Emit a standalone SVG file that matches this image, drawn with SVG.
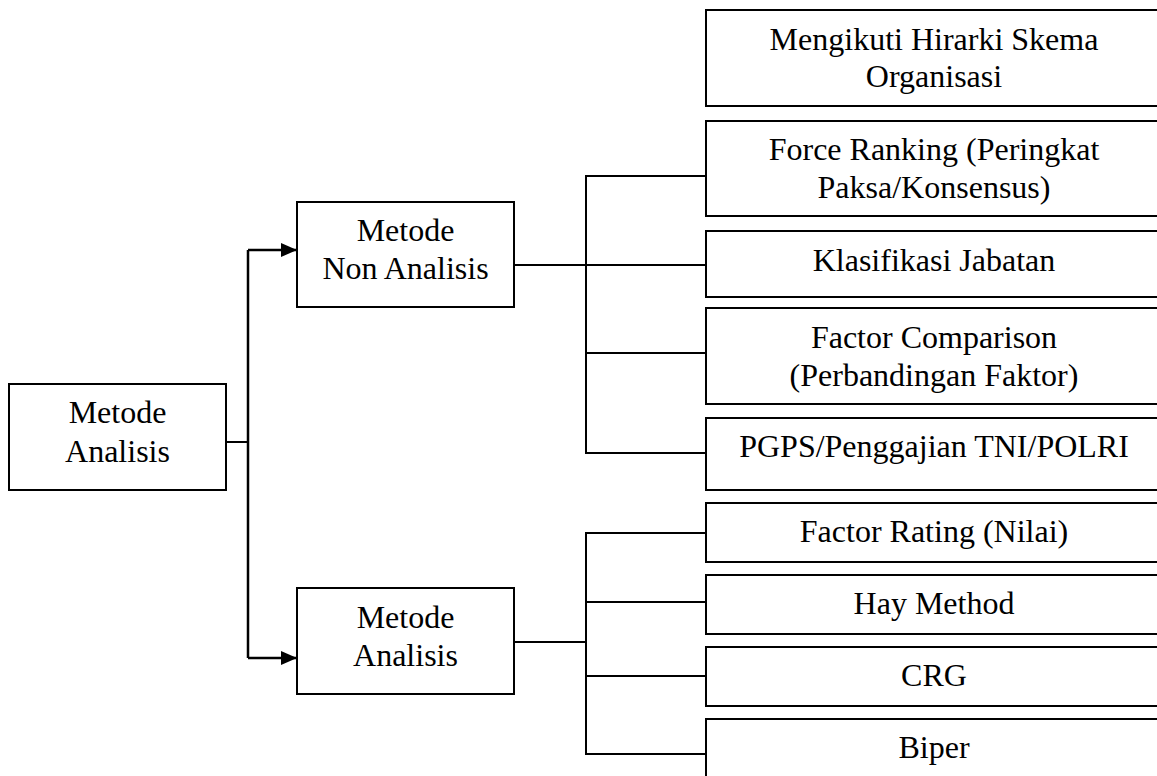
<svg xmlns="http://www.w3.org/2000/svg" width="1157" height="776" viewBox="0 0 1157 776">
<style>
.box{fill:#fff;stroke:#000;stroke-width:2}
.t{font-family:"Liberation Serif","Times New Roman",serif;font-size:32px;fill:#000;text-anchor:middle}
.c{fill:none;stroke:#000;stroke-width:2}
</style>
<defs>
<marker id="ah" viewBox="0 0 16 14" refX="16" refY="7" markerWidth="16" markerHeight="14" markerUnits="userSpaceOnUse" orient="auto">
<path d="M0,0 L16,7 L0,14 Z" fill="#000"/>
</marker>
</defs>
<rect width="1157" height="776" fill="#fff"/>
<g id="connectors">
<path class="c" d="M226,442 H248"/>
<path class="c" d="M248,250 V658" style="stroke-width:2.5"/>
<path class="c" d="M248,250 H297" marker-end="url(#ah)" style="stroke-width:2.5"/>
<path class="c" d="M248,658 H297" marker-end="url(#ah)" style="stroke-width:2.5"/>
<path class="c" d="M514,265 H706"/>
<path class="c" d="M706,176 H586 V453 H706"/>
<path class="c" d="M586,353 H706"/>
<path class="c" d="M514,642 H586"/>
<path class="c" d="M706,533 H586 V754 H706"/>
<path class="c" d="M586,602 H706"/>
<path class="c" d="M586,676 H706"/>
</g>
<g id="n-root">
<rect class="box" x="9" y="384" width="217" height="106"/>
<text class="t" x="117.5" y="423">Metode</text>
<text class="t" x="117.5" y="462">Analisis</text>
</g>
<g id="n-nonanalisis">
<rect class="box" x="297" y="202" width="217" height="105"/>
<text class="t" x="405.5" y="241">Metode</text>
<text class="t" x="405.5" y="279">Non Analisis</text>
</g>
<g id="n-analisis">
<rect class="box" x="297" y="588" width="217" height="106"/>
<text class="t" x="405.5" y="628">Metode</text>
<text class="t" x="405.5" y="666">Analisis</text>
</g>
<g id="n-hirarki">
<rect class="box" x="706" y="10" width="470" height="96"/>
<text class="t" x="934" y="50">Mengikuti Hirarki Skema</text>
<text class="t" x="934" y="87">Organisasi</text>
</g>
<g id="n-force">
<rect class="box" x="706" y="121" width="470" height="95"/>
<text class="t" x="934" y="160">Force Ranking (Peringkat</text>
<text class="t" x="934" y="198">Paksa/Konsensus)</text>
</g>
<g id="n-klasifikasi">
<rect class="box" x="706" y="231" width="470" height="66"/>
<text class="t" x="934" y="271">Klasifikasi Jabatan</text>
</g>
<g id="n-factorcomp">
<rect class="box" x="706" y="308" width="470" height="96"/>
<text class="t" x="934" y="348">Factor Comparison</text>
<text class="t" x="934" y="386">(Perbandingan Faktor)</text>
</g>
<g id="n-pgps">
<rect class="box" x="706" y="418" width="470" height="72"/>
<text class="t" x="934" y="457">PGPS/Penggajian TNI/POLRI</text>
</g>
<g id="n-factorrating">
<rect class="box" x="706" y="503" width="470" height="59"/>
<text class="t" x="934" y="542">Factor Rating (Nilai)</text>
</g>
<g id="n-hay">
<rect class="box" x="706" y="575" width="470" height="59"/>
<text class="t" x="934" y="614">Hay Method</text>
</g>
<g id="n-crg">
<rect class="box" x="706" y="647" width="470" height="59"/>
<text class="t" x="934" y="686">CRG</text>
</g>
<g id="n-biper">
<rect class="box" x="706" y="719" width="470" height="80"/>
<text class="t" x="934" y="758">Biper</text>
</g>
</svg>
